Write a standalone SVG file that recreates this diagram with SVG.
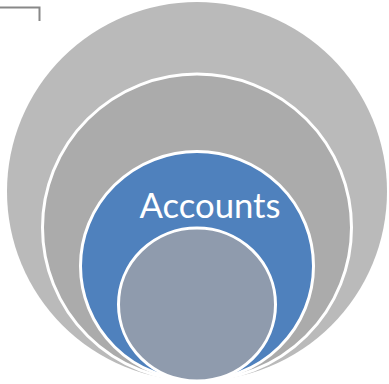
<svg xmlns="http://www.w3.org/2000/svg" width="389" height="384" viewBox="0 0 389 384">
<style>
.ring{stroke:#FFFFFF;stroke-width:3}
.lbl{font-family:Lato,"Liberation Sans",sans-serif;font-size:34px;fill:#FFFFFF}
</style>
<rect width="389" height="384" fill="#FFFFFF"/>
<g id="bracket"><path d="M0 7.5H39.5V21" fill="none" stroke="#888888" stroke-width="2"/></g>
<g id="outer"><ellipse cx="197" cy="191.5" rx="190" ry="189.5" fill="#BABABA"/></g>
<g id="second"><ellipse class="ring" cx="197" cy="227.5" rx="154.5" ry="153.5" fill="#ABABAB"/></g>
<g id="accounts"><ellipse class="ring" cx="197" cy="266" rx="116.5" ry="114.5" fill="#4F81BD"/>
<text class="lbl" x="139.5" y="218" textLength="141" lengthAdjust="spacingAndGlyphs">Accounts</text></g>
<g id="inner"><ellipse class="ring" cx="197" cy="304.5" rx="78.5" ry="76.5" fill="#8F9BAD"/></g>
<g id="connectors"></g>
</svg>
